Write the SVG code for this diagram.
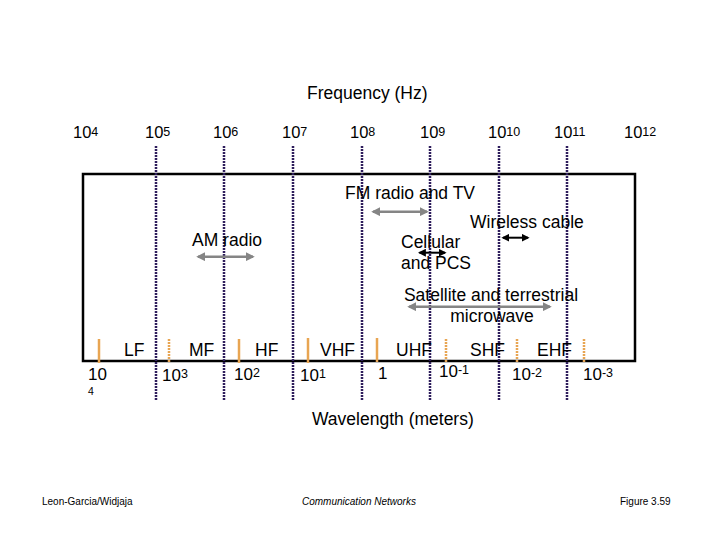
<svg xmlns="http://www.w3.org/2000/svg" width="720" height="540" viewBox="0 0 720 540">
<defs>
<style>
text{font-family:"Liberation Sans",Arial,sans-serif;fill:#000}
.t18{font-size:17.5px}
.num{font-size:16.5px}
.wnum{font-size:17px}
.sup{font-size:12.5px}
.foot{font-size:10px}
.grid{stroke:#2e1d5c;stroke-width:2.5;stroke-dasharray:2 1;fill:none}
.mk{stroke:#e8a552;stroke-width:2.5;fill:none}
.mkd{stroke:#e8a552;stroke-width:2.5;stroke-dasharray:2 1;fill:none}
.ga{stroke:#858585;stroke-width:2.5;fill:none;marker-start:url(#ag);marker-end:url(#ag)}
.ba{stroke:#000;stroke-width:2;fill:none;marker-start:url(#ab);marker-end:url(#ab)}
</style>
<marker id="ag" viewBox="0 0 10 10" refX="8" refY="5" markerWidth="3.5" markerHeight="3.5" orient="auto-start-reverse"><path d="M0,0L10,5L0,10z" fill="#858585"/></marker>
<marker id="ab" viewBox="0 0 10 10" refX="8" refY="5" markerWidth="4" markerHeight="4" orient="auto-start-reverse"><path d="M0,0L10,5L0,10z" fill="#000"/></marker>
</defs>
<rect width="720" height="540" fill="#fff"/>

<g id="title">
<text class="t18" x="307" y="99">Frequency (Hz)</text>
</g>

<g id="freq-labels" class="num">
<text x="73" y="138">10<tspan class="sup" dy="-2.5">4</tspan></text>
<text x="145" y="138">10<tspan class="sup" dy="-2.5">5</tspan></text>
<text x="213" y="138">10<tspan class="sup" dy="-2.5">6</tspan></text>
<text x="282" y="138">10<tspan class="sup" dy="-2.5">7</tspan></text>
<text x="350" y="138">10<tspan class="sup" dy="-2.5">8</tspan></text>
<text x="420" y="138">10<tspan class="sup" dy="-2.5">9</tspan></text>
<text x="488" y="138">10<tspan class="sup" dy="-2.5">10</tspan></text>
<text x="554" y="138">10<tspan class="sup" dy="-2.5">11</tspan></text>
<text x="624" y="138">10<tspan class="sup" dy="-2.5">12</tspan></text>
</g>

<g id="frame">
<rect x="83" y="174" width="552" height="187" fill="none" stroke="#000" stroke-width="2.5"/>
</g>

<g id="connectors">
<line class="grid" x1="156" y1="146" x2="156" y2="400"/>
<line class="grid" x1="224" y1="146" x2="224" y2="400"/>
<line class="grid" x1="293" y1="146" x2="293" y2="400"/>
<line class="grid" x1="362" y1="146" x2="362" y2="400"/>
<line class="grid" x1="430" y1="146" x2="430" y2="400"/>
<line class="grid" x1="499" y1="146" x2="499" y2="400"/>
<line class="grid" x1="567" y1="146" x2="567" y2="400"/>

<line class="mk" x1="99" y1="339" x2="99" y2="363"/>
<line class="mkd" x1="169" y1="339" x2="169" y2="363"/>
<line class="mk" x1="239" y1="339" x2="239" y2="363"/>
<line class="mk" x1="308" y1="338" x2="308" y2="363"/>
<line class="mk" x1="377" y1="338" x2="377" y2="362" stroke-width="1.8"/>
<line class="mkd" x1="446" y1="339" x2="446" y2="363"/>
<line class="mkd" x1="517" y1="339" x2="517" y2="363"/>
<line class="mkd" x1="584" y1="339" x2="584" y2="363"/>

<line class="ga" x1="198" y1="256.7" x2="253" y2="256.7"/>
<line class="ga" x1="373" y1="211.7" x2="427" y2="211.7"/>
<line class="ba" x1="503" y1="237.7" x2="528" y2="237.7"/>
<line class="ba" x1="419.5" y1="252.7" x2="445" y2="252.7"/>
<line class="ga" x1="409" y1="306.7" x2="550" y2="306.7"/>
</g>

<g id="services" class="t18">
<text x="345" y="199">FM radio and TV</text>
<text x="192" y="246">AM radio</text>
<text x="470" y="228">Wireless cable</text>
<text x="401" y="248">Cellular</text>
<text x="401" y="269">and PCS</text>
<text x="491" y="301" text-anchor="middle">Satellite and terrestrial</text>
<text x="492" y="322" text-anchor="middle">microwave</text>
</g>

<g id="bands" class="t18">
<text x="124" y="356">LF</text>
<text x="189" y="356">MF</text>
<text x="255" y="356">HF</text>
<text x="320" y="356">VHF</text>
<text x="396" y="356">UHF</text>
<text x="470" y="356">SHF</text>
<text x="537" y="356">EHF</text>
</g>

<g id="wave-labels" class="wnum">
<text x="88" y="380">10</text>
<text x="88" y="395" style="font-size:10.5px">4</text>
<text x="162" y="381">10<tspan class="sup" dy="-3">3</tspan></text>
<text x="234" y="380">10<tspan class="sup" dy="-3">2</tspan></text>
<text x="300" y="381">10<tspan class="sup" dy="-3">1</tspan></text>
<text x="378" y="379">1</text>
<text x="439" y="377">10<tspan class="sup" dy="-3">-1</tspan></text>
<text x="512" y="380">10<tspan class="sup" dy="-3">-2</tspan></text>
<text x="583" y="380">10<tspan class="sup" dy="-3">-3</tspan></text>
</g>

<g id="xlabel">
<text class="t18" x="312" y="425">Wavelength (meters)</text>
</g>

<g id="footer" class="foot">
<text x="42" y="505">Leon-Garcia/Widjaja</text>
<text x="302" y="505" font-style="italic">Communication Networks</text>
<text x="620" y="505">Figure 3.59</text>
</g>
</svg>
